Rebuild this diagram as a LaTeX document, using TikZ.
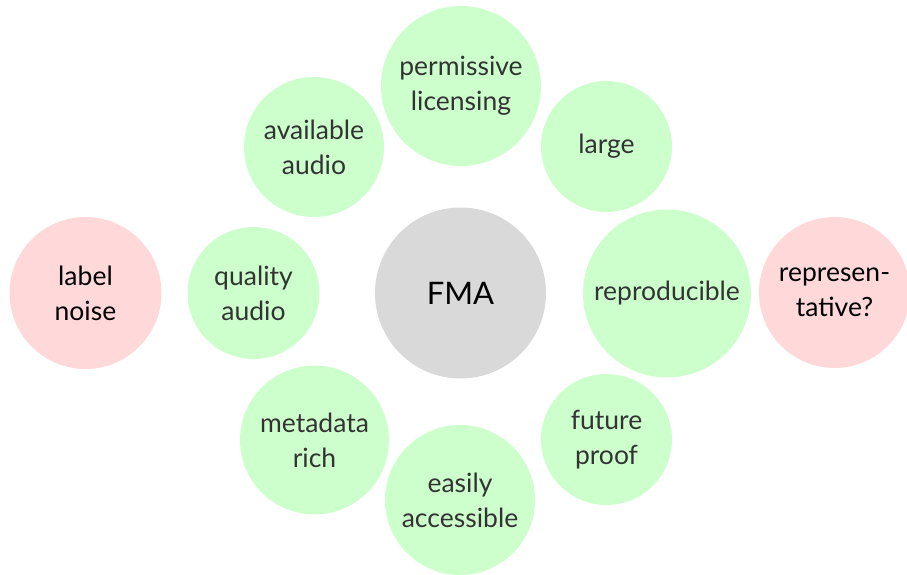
\documentclass[tikz,border=0pt]{standalone}
\usepackage{fontspec}
\setmainfont{Lato}
\begin{document}
\begin{tikzpicture}[x=1pt,y=-1pt,
  bubble/.style={circle, inner sep=0pt, align=center, font=\fontsize{26.5}{35}\selectfont},
  pro/.style={bubble, fill=green!20, text=black!80},
  con/.style={bubble, fill=red!15, text=black},
  core/.style={bubble, fill=black!15, text=black, font=\fontsize{31}{37}\selectfont}]
\useasboundingbox (0,0) rectangle (907,575);
\node[core, minimum size=171pt] (fma) at (460.5,293) {FMA};
\node[pro, minimum size=160pt] (lic) at (461,86) {permissive\\licensing};
\node[pro, minimum size=131pt] (large) at (606.5,146.5) {large};
\node[pro, minimum size=168pt] (repro) at (667,293.5) {reproducible};
\node[pro, minimum size=131pt] (future) at (606.5,439.5) {future\\proof};
\node[pro, minimum size=150pt] (access) at (460,500) {easily\\accessible};
\node[pro, minimum size=149pt] (meta) at (314.5,440) {metadata\\rich};
\node[pro, minimum size=132pt] (qual) at (253.5,293) {quality\\audio};
\node[pro, minimum size=140pt] (avail) at (314,147) {available\\audio};
\node[con, minimum size=152pt] (noise) at (85.5,293) {label\\noise};
\node[con, minimum size=151pt] (rep) at (834.5,292.5) {represen-\\tative?};
\end{tikzpicture}
\end{document}
